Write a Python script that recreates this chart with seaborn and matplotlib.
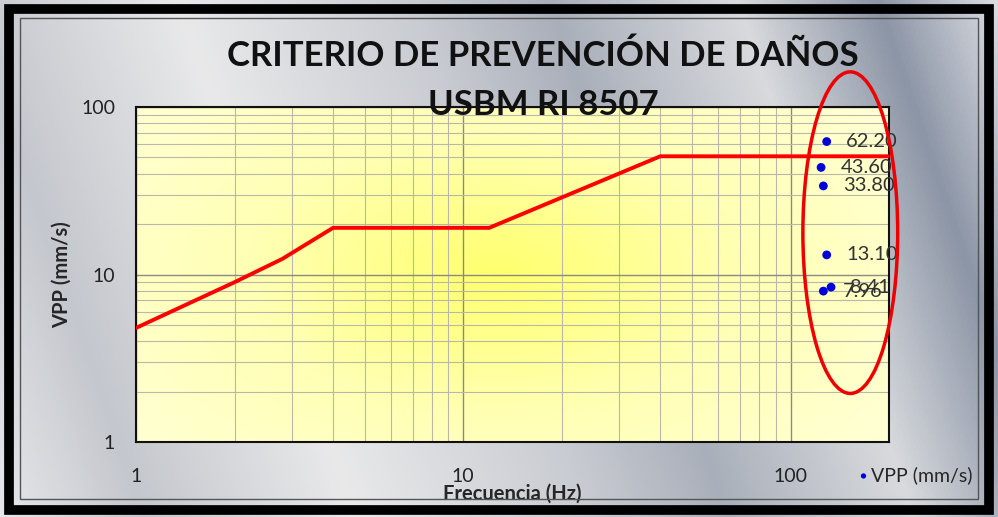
import numpy as np
import pandas as pd
import matplotlib.pyplot as plt
import seaborn as sns
from matplotlib.patches import Ellipse, Rectangle
from matplotlib.colors import LinearSegmentedColormap

# USBM RI 8507 limit curve
curve_freq = [1, 2, 2.8, 4, 12, 40, 200]
curve_vpp = [4.8, 9.0, 12.4, 19.0, 19.0, 50.8, 50.8]

# measured blasts
point_freq = [129, 124, 126, 129, 133, 126]
point_vpp = [62.20, 43.60, 33.80, 13.10, 8.41, 7.96]
point_labels = ['62.20', '43.60', '33.80', '13.10', '8.41', '7.96']

x_ticks = [1, 10, 100]
y_ticks = [1, 10, 100]

sns.set_style('white')
plt.rcParams['font.family'] = ['Lato', 'DejaVu Sans']

fig = plt.figure(figsize=(9.98, 5.17), dpi=100)

# metallic grey background
bg = fig.add_axes([0, 0, 1, 1], zorder=0)
stops = [(0.0, '#e6e7ea'), (0.12, '#c4c7cd'), (0.3, '#e9e9ea'), (0.5, '#c9ccd2'),
         (0.62, '#a9afba'), (0.78, '#d8dadd'), (0.9, '#8c95a6'), (1.0, '#d9dbe0')]
grey = LinearSegmentedColormap.from_list('grey', stops)
gx, gy = np.meshgrid(np.linspace(0, 1, 400), np.linspace(0, 1, 200))
bg.imshow(gx * 0.85 + (1 - gy) * 0.15, cmap=grey, aspect='auto', extent=[0, 1, 0, 1])
bg.set_axis_off()
fig.add_artist(Rectangle((0.009, 0.013), 0.982, 0.97, transform=fig.transFigure,
                         fill=False, edgecolor='black', linewidth=7, zorder=5))
fig.add_artist(Rectangle((0.02, 0.035), 0.96, 0.93, transform=fig.transFigure,
                         fill=False, edgecolor='#555555', linewidth=1, zorder=5))

pos = [0.1363, 0.145, 0.7545, 0.648]

# yellow radial fill of the plot area
yb = fig.add_axes(pos, zorder=1)
yellow = LinearSegmentedColormap.from_list('yel', ['#ffff6e', '#ffffb4', '#ffffd6'])
px, py = np.meshgrid(np.linspace(0, 1, 300), np.linspace(0, 1, 150))
r = np.sqrt(((px - 0.48) / 0.7) ** 2 + ((py - 0.5) / 0.9) ** 2)
yb.imshow(np.clip(r, 0, 1), cmap=yellow, aspect='auto', extent=[0, 1, 0, 1])
yb.set_axis_off()

ax = fig.add_axes(pos, zorder=2)
ax.patch.set_alpha(0)

curve = pd.DataFrame({'freq': curve_freq, 'vpp': curve_vpp})
points = pd.DataFrame({'freq': point_freq, 'vpp': point_vpp})

sns.lineplot(data=curve, x='freq', y='vpp', color='#ff0000', linewidth=2.8, ax=ax,
             legend=False, zorder=4)
sns.scatterplot(data=points, x='freq', y='vpp', color='#0000dd', s=40, ax=ax,
                edgecolor='none', zorder=5, label='VPP (mm/s)', legend=False)

for f, v, t in zip(point_freq, point_vpp, point_labels):
    ax.annotate(t, (f, v), xytext=(14, 0), textcoords='offset points',
                va='center', ha='left', fontsize=14.5, color='#333333', zorder=6)

ax.set_xscale('log')
ax.set_yscale('log')
ax.set_xlim(1, 200)
ax.set_ylim(1, 100)
ax.set_xticks(x_ticks)
ax.set_xticklabels([str(t) for t in x_ticks])
ax.set_yticks(y_ticks)
ax.set_yticklabels([str(t) for t in y_ticks])
ax.minorticks_on()
ax.grid(True, which='major', color='#8a8a80', linewidth=1.0)
ax.grid(True, which='minor', color='#b8b8a8', linewidth=0.8)
ax.tick_params(axis='both', which='both', length=0)
ax.tick_params(axis='x', which='major', pad=19, labelsize=14, labelcolor='#222222')
ax.tick_params(axis='y', which='major', pad=15, labelsize=14, labelcolor='#222222')
for s in ax.spines.values():
    s.set_visible(True)
    s.set_color('#111111')
    s.set_linewidth(1.5)

ax.set_xlabel('Frecuencia (Hz)', fontsize=14.5, fontweight='bold', labelpad=-1)
ax.set_ylabel('VPP (mm/s)', fontsize=14.5, fontweight='bold', labelpad=7)

fig.text(0.544, 0.893, 'CRITERIO DE PREVENCIÓN DE DAÑOS', ha='center', va='center',
         fontsize=25, fontweight='bold', color='#111111', zorder=10)
fig.text(0.544, 0.797, 'USBM RI 8507', ha='center', va='center',
         fontsize=25, fontweight='bold', color='#111111', zorder=10)

handles, labels = ax.get_legend_handles_labels()
fig.legend(handles, labels, loc='center left', bbox_to_anchor=(0.836, 0.081),
           frameon=False, fontsize=14, handletextpad=-0.2, markerscale=0.6,
           handlelength=1.2)

fig.add_artist(Ellipse((0.852, 0.55), 0.095, 0.622, transform=fig.transFigure,
                       fill=False, edgecolor='#ee0000', linewidth=2.5, zorder=10))

fig.savefig('out.png', dpi=100)
